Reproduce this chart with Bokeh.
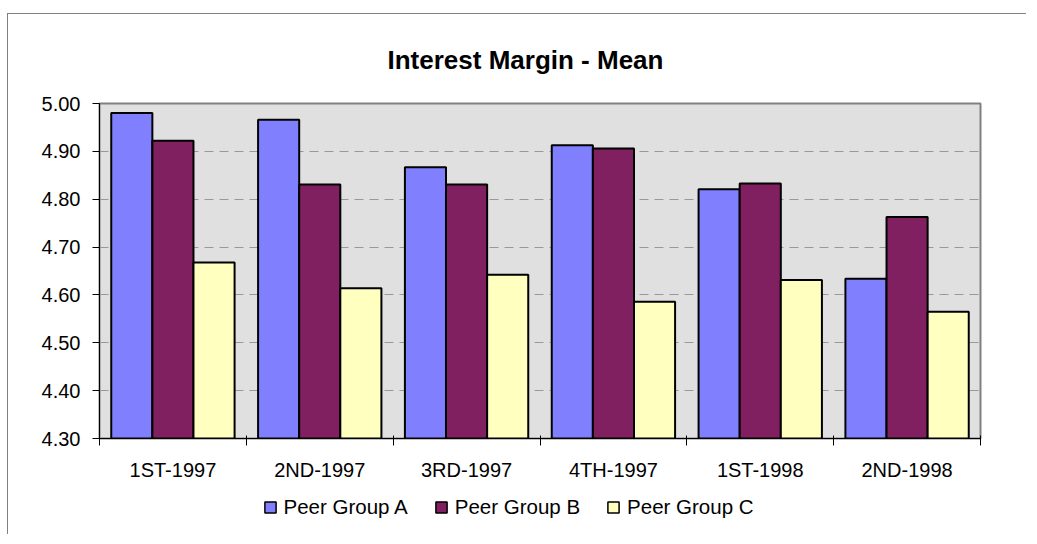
from bokeh.plotting import figure
from bokeh.layouts import column
from bokeh.models import (Range1d, FixedTicker, NumeralTickFormatter, Legend, LegendItem,
                          ColumnDataSource)
from bokeh.embed import file_html
from bokeh.resources import INLINE

# ---- data ----
categories = ["1ST-1997", "2ND-1997", "3RD-1997", "4TH-1997", "1ST-1998", "2ND-1998"]
series_names = ["Peer Group A", "Peer Group B", "Peer Group C"]
peer_a = [4.980, 4.966, 4.867, 4.913, 4.821, 4.634]
peer_b = [4.922, 4.831, 4.831, 4.906, 4.833, 4.763]
peer_c = [4.668, 4.614, 4.642, 4.586, 4.631, 4.565]
y_ticks = [4.30, 4.40, 4.50, 4.60, 4.70, 4.80, 4.90, 5.00]

colors = ["#8080FF", "#802060", "#FFFFC0"]
offsets = [-0.28, 0.0, 0.28]
bar_w = 0.28
FONT = "Liberation Sans"

p = figure(width=1018, height=470, x_range=Range1d(0, len(categories)),
           y_range=Range1d(y_ticks[0], y_ticks[-1]),
           output_backend="svg", toolbar_location=None,
           min_border_left=91, min_border_right=46, min_border_top=88, min_border_bottom=46)

p.title.text = "Interest Margin - Mean"
p.title.align = "left"
p.title.offset = 288
p.title.standoff = 57
p.title.text_font = FONT
p.title.text_font_size = "26px"
p.title.text_font_style = "bold"
p.title.text_color = "black"

p.background_fill_color = "#E0E0E0"
p.border_fill_color = "white"
p.outline_line_color = "#808080"
p.outline_line_width = 2

sources = []
for vals, col, off in zip([peer_a, peer_b, peer_c], colors, offsets):
    src = ColumnDataSource(dict(x=[i + 0.5 + off for i in range(len(categories))], top=vals))
    sources.append(src)
    p.vbar(x="x", top="top", bottom=y_ticks[0], width=bar_w, source=src,
           fill_color=col, line_color="black", line_width=2)

# x axis: labels at centers, ticks at boundaries
xa = p.xaxis[0]
xa.ticker = FixedTicker(ticks=[i + 0.5 for i in range(len(categories))],
                        minor_ticks=list(range(len(categories) + 1)))
xa.major_label_overrides = {i + 0.5: c for i, c in enumerate(categories)}
xa.major_tick_in = 0
xa.major_tick_out = 0
xa.minor_tick_in = 3
xa.minor_tick_out = 7
xa.minor_tick_line_color = "black"
xa.axis_line_color = "black"
xa.axis_line_width = 1
xa.major_label_text_font = FONT
xa.major_label_text_font_size = "20px"
xa.major_label_text_color = "black"
xa.major_label_standoff = 13

ya = p.yaxis[0]
ya.ticker = FixedTicker(ticks=y_ticks)
ya.formatter = NumeralTickFormatter(format="0.00")
ya.major_tick_in = 0
ya.major_tick_out = 7
ya.minor_tick_line_color = None
ya.axis_line_color = "black"
ya.major_tick_line_color = "black"
ya.major_label_text_font = FONT
ya.major_label_text_font_size = "20px"
ya.major_label_text_color = "black"
ya.major_label_standoff = 12

p.xgrid.grid_line_color = None
p.ygrid.ticker = FixedTicker(ticks=y_ticks[1:-1])
p.ygrid.grid_line_color = "#999999"
p.ygrid.grid_line_dash = "9 6"
p.ygrid.grid_line_width = 1

# ---- legend strip below the chart ----
lf = figure(width=1018, height=50, x_range=Range1d(0, 1), y_range=Range1d(0, 1),
            output_backend="svg", toolbar_location=None, min_border=0,
            x_axis_type=None, y_axis_type=None)
lf.outline_line_color = None
lf.xgrid.visible = False
lf.ygrid.visible = False
leg_renderers = [lf.scatter(x="x", y="top", source=s, marker="square", size=11,
                            fill_color=c, line_color="black", line_width=1.5, visible=False)
                 for s, c in zip(sources, colors)]
legend = Legend(items=[LegendItem(label=n, renderers=[r]) for n, r in zip(series_names, leg_renderers)],
                orientation="horizontal", location=(156.5, 13),
                glyph_width=28, glyph_height=28, label_height=28,
                label_standoff=0, spacing=19, padding=0, margin=0,
                inactive_fill_alpha=0,
                border_line_color=None, background_fill_alpha=0, label_text_font=FONT,
                label_text_font_size="20.5px", label_text_color="black")
lf.add_layout(legend)

layout = column(p, lf, spacing=0, margin=(13, 0, 0, 7),
                styles={"border-left": "1px solid #808080", "border-top": "1px solid #808080"})

open("out.html", "w").write(file_html(layout, INLINE))
